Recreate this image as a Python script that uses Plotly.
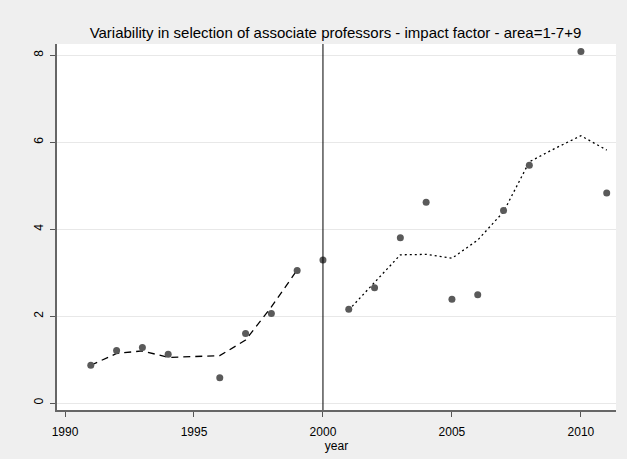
import plotly.graph_objects as go

# Observed values per year
years = [1991, 1992, 1993, 1994, 1996, 1997, 1998, 1999, 2000,
         2001, 2002, 2003, 2004, 2005, 2006, 2007, 2008, 2010, 2011]
impact = [0.87, 1.21, 1.28, 1.12, 0.58, 1.60, 2.06, 3.05, 3.29,
          2.16, 2.65, 3.80, 4.62, 2.39, 2.49, 4.43, 5.47, 8.09, 4.83]

# Smoothed fit before the reform
pre_years = [1991, 1992, 1993, 1994, 1995, 1996, 1997, 1998, 1999]
pre_fit = [0.87, 1.14, 1.20, 1.05, 1.07, 1.09, 1.45, 2.21, 3.06]

# Smoothed fit after the reform
post_years = [2001, 2002, 2003, 2004, 2005, 2006, 2007, 2008, 2009, 2010, 2011]
post_fit = [2.14, 2.78, 3.41, 3.42, 3.33, 3.75, 4.40, 5.55, 5.86, 6.15, 5.82]

cutoff_year = 2000
x_ticks = [1990, 1995, 2000, 2005, 2010]
y_ticks = [0, 2, 4, 6, 8]

title_text = "Variability in selection of associate professors - impact factor - area=1-7+9"

font_family = "Liberation Sans Narrow, Arial Narrow, Liberation Sans, Arial, sans-serif"

fig = go.Figure()

fig.add_trace(go.Scatter(
    x=pre_years, y=pre_fit, mode="lines",
    line=dict(color="black", width=1.3, dash="7px,5px"),
    hoverinfo="skip", showlegend=False,
))
fig.add_trace(go.Scatter(
    x=post_years, y=post_fit, mode="lines",
    line=dict(color="black", width=1.3, dash="2px,3px"),
    hoverinfo="skip", showlegend=False,
))
fig.add_trace(go.Scatter(
    x=years, y=impact, mode="markers",
    marker=dict(color="#5a5a5a", size=7, line=dict(width=0)),
    showlegend=False,
))

fig.add_shape(
    type="line", xref="x", yref="paper",
    x0=cutoff_year, x1=cutoff_year, y0=0, y1=1,
    line=dict(color="black", width=1),
)

fig.update_layout(
    width=627, height=459,
    margin=dict(l=57, r=11, t=44, b=49),
    paper_bgcolor="#efefef",
    plot_bgcolor="white",
    font=dict(family=font_family, size=12, color="black"),
    title=dict(
        text=title_text, x=0.535, xanchor="center", y=0.928, yanchor="middle",
        font=dict(family=font_family, size=15, color="black"),
    ),
)

fig.update_xaxes(
    range=[1989.69, 2011.36],
    tickvals=x_ticks, ticktext=[str(v) for v in x_ticks],
    ticks="outside", ticklen=5, tickwidth=1, tickcolor="#555555",
    ticklabelstandoff=5,
    showline=True, linecolor="#666666", linewidth=1.5,
    showgrid=False, zeroline=False, automargin=False,
    tickfont=dict(size=12),
    title=dict(text="year", font=dict(size=12), standoff=1),
)

fig.update_yaxes(
    range=[-0.16, 8.26],
    tickvals=y_ticks, ticktext=[str(v) for v in y_ticks],
    tickangle=-90,
    ticks="outside", ticklen=5, tickwidth=1, tickcolor="#555555",
    ticklabelstandoff=2,
    showline=True, linecolor="#666666", linewidth=2,
    showgrid=True, gridcolor="#e8e8e8", gridwidth=1,
    zeroline=False, automargin=False,
    tickfont=dict(size=12),
)

fig.write_html("out.html")
